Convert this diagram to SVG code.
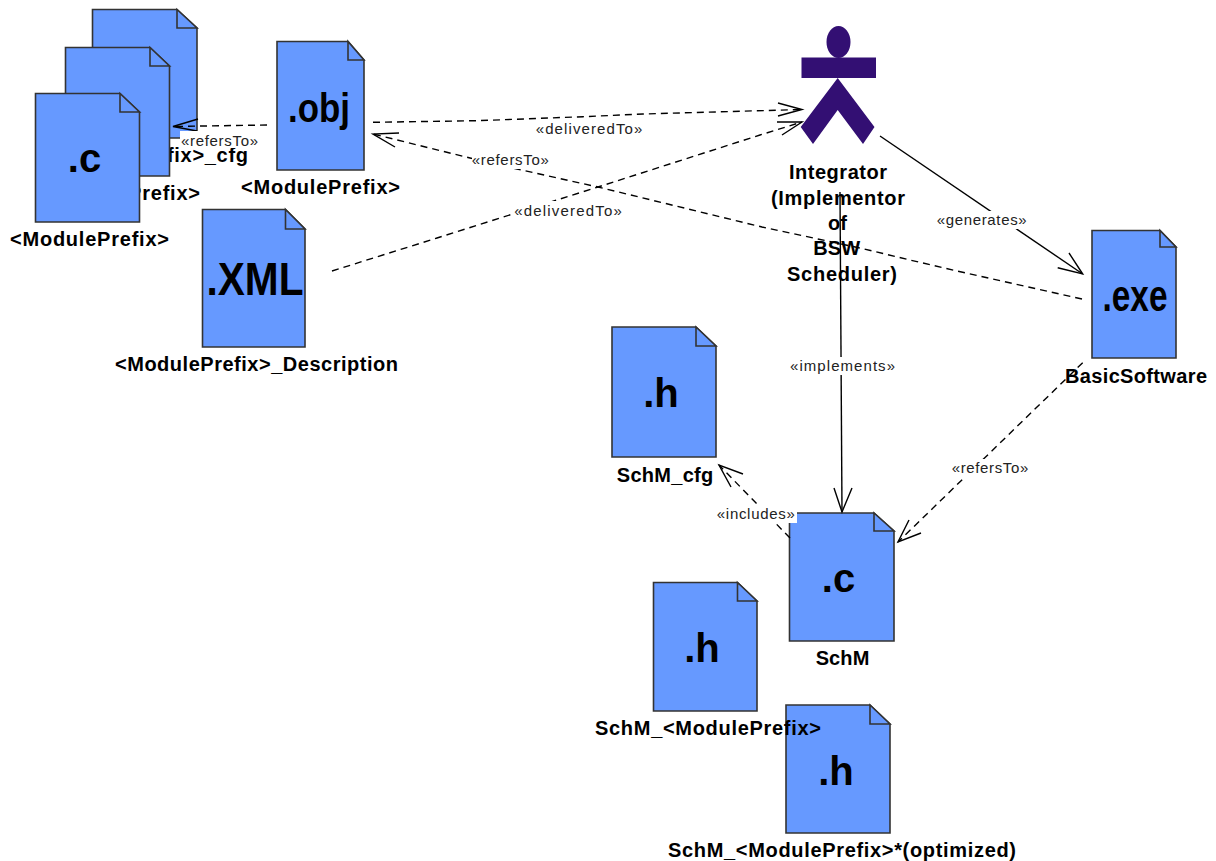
<svg xmlns="http://www.w3.org/2000/svg" width="1216" height="861" viewBox="0 0 1216 861">
<style>
text{font-family:"Liberation Sans",Arial,sans-serif;fill:#000}
.doc{fill:#6699ff;stroke:#333;stroke-width:1.6;stroke-linejoin:miter}
.ext{font-weight:bold;text-anchor:middle}
.lab{font-weight:bold;font-size:20px;text-anchor:middle}
.ster{font-size:15px;text-anchor:middle;fill:#222}
.bg{fill:#fff}
.d,.s,.h{fill:none;stroke:#000;stroke-width:1.4}
.d{stroke-dasharray:7 5}
</style>
<rect width="1216" height="861" fill="#fff"/>
<g id="cfg-c">
<path class="doc" d="M92.500 9.500H177L197 28V138H92.500Z"/><path class="doc" d="M177 9.500V28H197Z"/>
<text class="lab" x="147" y="162" textLength="202">&lt;ModulePrefix&gt;_cfg</text>
</g>
<g id="prefix-h">
<path class="doc" d="M65.500 47.500H150L169.500 66V176H65.500Z"/><path class="doc" d="M150 47.500V66H169.500Z"/>
<text class="lab" x="120.500" y="200" textLength="159">&lt;ModulePrefix&gt;</text>
</g>
<g id="prefix-c">
<path class="doc" d="M35.500 93.500H120L139.500 112V222H35.500Z"/><path class="doc" d="M120 93.500V112H139.500Z"/>
<text class="ext" font-size="40" x="84.500" y="172">.c</text>
<text class="lab" x="89.500" y="246" textLength="159">&lt;ModulePrefix&gt;</text>
</g>
<g id="obj">
<path class="doc" d="M277 41.500H348L364 60V170H277Z"/><path class="doc" d="M348 41.500V60H364Z"/>
<text class="ext" font-size="41" x="319" y="122" textLength="62" lengthAdjust="spacingAndGlyphs">.obj</text>
<text class="lab" x="320.500" y="194" textLength="159">&lt;ModulePrefix&gt;</text>
</g>
<g id="xml">
<path class="doc" d="M202.500 209.500H285.500L305 229V347H202.500Z"/><path class="doc" d="M285.500 209.500V229H305Z"/>
<text class="ext" font-size="46" x="255" y="295" textLength="97" lengthAdjust="spacingAndGlyphs">.XML</text>
<text class="lab" x="256.500" y="371" textLength="283">&lt;ModulePrefix&gt;_Description</text>
</g>
<g id="integrator">
<ellipse cx="838.500" cy="42" rx="12" ry="16" fill="#330f73"/>
<rect x="801.500" y="57.500" width="74.500" height="20.500" fill="#330f73"/>
<path fill="#330f73" d="M837.700 78L874.500 127L863 144L837.700 110L813 144L800.700 127Z"/>
<text class="lab" x="838" y="179" textLength="98">Integrator</text>
<text class="lab" x="838" y="205" textLength="134">(Implementor</text>
<text class="lab" x="837.500" y="230" textLength="19">of</text>
<text class="lab" x="836.700" y="255" textLength="47">BSW</text>
<text class="lab" x="842" y="281" textLength="110">Scheduler)</text>
</g>
<g id="exe">
<path class="doc" d="M1092 230.500H1160L1176 247V358H1092Z"/><path class="doc" d="M1160 230.500V247H1176Z"/>
<text class="ext" font-size="44" x="1135" y="311" textLength="65" lengthAdjust="spacingAndGlyphs">.exe</text>
<text class="lab" x="1136" y="383" textLength="142">BasicSoftware</text>
</g>
<g id="schm-cfg">
<path class="doc" d="M612 327H696L716 346V457H612Z"/><path class="doc" d="M696 327V346H716Z"/>
<text class="ext" font-size="40" x="661" y="407">.h</text>
<text class="lab" x="665" y="482" textLength="96.500">SchM_cfg</text>
</g>
<g id="schm-c">
<path class="doc" d="M789.500 513H874L894 531V641H789.500Z"/><path class="doc" d="M874 513V531H894Z"/>
<text class="ext" font-size="40" x="838.500" y="592">.c</text>
<text class="lab" x="842.500" y="665" textLength="53.700">SchM</text>
</g>
<g id="schm-h3">
<path class="doc" d="M786 705H870L890 724V833H786Z"/><path class="doc" d="M870 705V724H890Z"/>
<text class="ext" font-size="40" x="836" y="785">.h</text>
<text class="lab" x="842" y="857" textLength="348">SchM_&lt;ModulePrefix&gt;*(optimized)</text>
</g>
<g id="schm-h2">
<path class="doc" d="M653.500 582.500H737.500L757 601V711H653.500Z"/><path class="doc" d="M737.500 582.500V601H757Z"/>
<text class="ext" font-size="40" x="702" y="662">.h</text>
<text class="lab" x="708" y="735" textLength="226">SchM_&lt;ModulePrefix&gt;</text>
</g>
<g id="connectors">
<path class="d" d="M267 125L173 126.500"/><path class="h" d="M198 119L173 126.500L197 131"/>
<rect class="bg" x="180" y="131" width="79" height="17"/>
<text class="ster" x="219.500" y="146" textLength="77">«refersTo»</text>
<path class="d" d="M373 122.300L477 120.700L583 116.700L643 114L802 109.500"/><path class="h" d="M778 103L802 109.500L778 116"/>
<text class="ster" x="589" y="134" textLength="106.500">«deliveredTo»</text>
<path class="d" d="M332 271L437 238L598 187L760 135L802 122"/><path class="h" d="M777 122H802L782 135"/>
<rect class="bg" x="512" y="201" width="111" height="20"/>
<text class="ster" x="568" y="216" textLength="107.500">«deliveredTo»</text>
<path class="d" d="M1082 299L957 271L910 260L860 248L762 227L598 187L517 169L470 158L373 134"/><path class="h" d="M399 133L373 134L395 147"/>
<rect class="bg" x="472" y="150" width="79" height="19"/>
<text class="ster" x="510.300" y="164.500" textLength="77">«refersTo»</text>
<path class="s" d="M880 136L1082.700 274"/><path class="h" d="M1057.700 267.700L1082.700 274L1069 253"/>
<rect class="bg" x="936" y="211" width="92" height="18"/>
<text class="ster" x="981.700" y="225" textLength="90">«generates»</text>
<path class="s" d="M840 192L842 512"/><path class="h" d="M834 488L842 512L852 488"/>
<rect class="bg" x="789" y="357" width="107" height="18"/>
<text class="ster" x="842.500" y="371" textLength="105">«implements»</text>
<path class="d" d="M1082.700 362.700L898 542"/><path class="h" d="M909 520L898 542L921 533"/>
<rect class="bg" x="950" y="459" width="81" height="18"/>
<text class="ster" x="990" y="472.500" textLength="76.500">«refersTo»</text>
<path class="d" d="M790 538L719 465"/><path class="h" d="M743 474L719 465L731 487"/>
<rect class="bg" x="716" y="505" width="81" height="18"/>
<text class="ster" x="755.800" y="519" textLength="78">«includes»</text>
</g>
</svg>
